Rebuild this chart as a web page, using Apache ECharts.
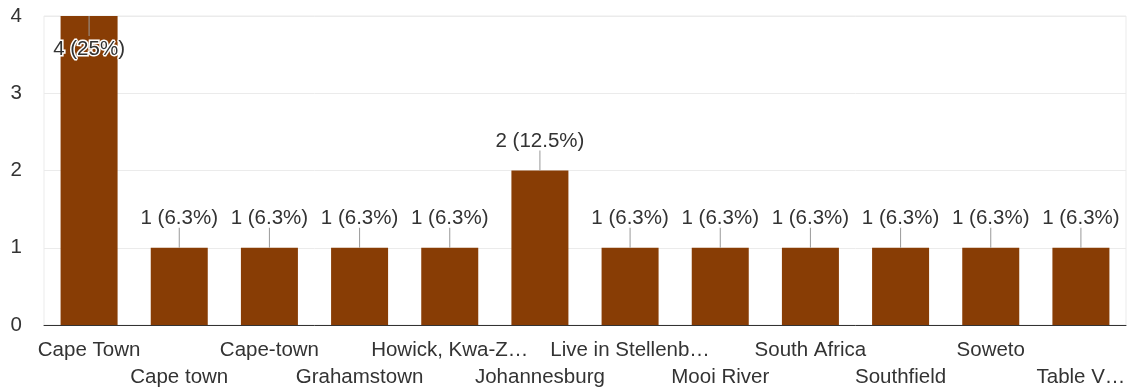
<!DOCTYPE html>
<html style="height: 100%">
<head>
<meta charset="utf-8">
<script src="https://cdn.jsdelivr.net/npm/echarts@6/dist/echarts.min.js"></script>
</head>
<body style="height: 100%; margin: 0; background: #fff">
<div id="container" style="width: 1132px; height: 391px"></div>
<script type="text/javascript">
// categories as shown (long names truncated in the picture)
var places = ['Cape Town', 'Cape town', 'Cape-town', 'Grahamstown', 'Howick, Kwa-Z\u2026',
    'Johannesburg', 'Live in Stellenb\u2026', 'Mooi River', 'South Africa', 'Southfield',
    'Soweto', 'Table V\u2026'];
var counts = [4, 1, 1, 1, 1, 2, 1, 1, 1, 1, 1, 1];
var shares = ['25%', '6.3%', '6.3%', '6.3%', '6.3%', '12.5%', '6.3%', '6.3%', '6.3%', '6.3%', '6.3%', '6.3%'];
var yTicks = [0, 1, 2, 3, 4];

var FONT = '"Liberation Sans", Arial, sans-serif';
var FS = 20.5;
var yMax = yTicks[yTicks.length - 1];

var myChart = echarts.init(document.getElementById('container'));

var option = {
    animation: false,
    backgroundColor: '#fff',
    grid: {
        left: 44,
        right: 6,
        top: 16,
        bottom: 65,
        show: true,
        borderColor: '#ebebeb',
        borderWidth: 1
    },
    xAxis: {
        type: 'category',
        data: places,
        axisTick: { show: false },
        axisLine: { lineStyle: { color: '#333', width: 1 } },
        axisLabel: {
            interval: 0,
            margin: 12,
            color: '#333',
            fontSize: FS,
            fontFamily: FONT,
            lineHeight: 27,
            formatter: function (v, i) {
                return i % 2 ? '\n' + v : v;
            }
        }
    },
    yAxis: {
        type: 'value',
        min: 0,
        max: yMax,
        interval: 1,
        axisLine: { show: false },
        axisTick: { show: false },
        splitLine: { lineStyle: { color: '#ebebeb' } },
        axisLabel: {
            margin: 22,
            color: '#333',
            fontSize: FS,
            fontFamily: FONT
        }
    },
    series: [
        {
            type: 'bar',
            data: counts,
            barWidth: 57,
            itemStyle: { color: '#883d05' }
        },
        {
            // callout labels with leader lines
            type: 'custom',
            data: counts.map(function (c, i) { return [i, c]; }),
            z: 5,
            renderItem: function (params, api) {
                var i = api.value(0), v = api.value(1);
                var p = api.coord([i, v]);
                var dir = v >= yMax ? -1 : 1;
                return {
                    type: 'group',
                    children: [
                        {
                            type: 'line',
                            shape: { x1: p[0], y1: p[1], x2: p[0], y2: p[1] - 20 * dir },
                            style: { stroke: '#999', lineWidth: 1 }
                        },
                        {
                            type: 'text',
                            style: {
                                x: p[0],
                                y: p[1] - (dir > 0 ? 29 : 33) * dir,
                                text: counts[i] + ' (' + shares[i] + ')',
                                align: 'center',
                                verticalAlign: 'middle',
                                font: FS + 'px ' + FONT,
                                fill: '#333',
                                stroke: '#fff',
                                lineWidth: 3
                            }
                        }
                    ]
                };
            }
        }
    ]
};

myChart.setOption(option, true);
window.onresize = function () {
    myChart.resize();
};
</script>
</body>
</html>
